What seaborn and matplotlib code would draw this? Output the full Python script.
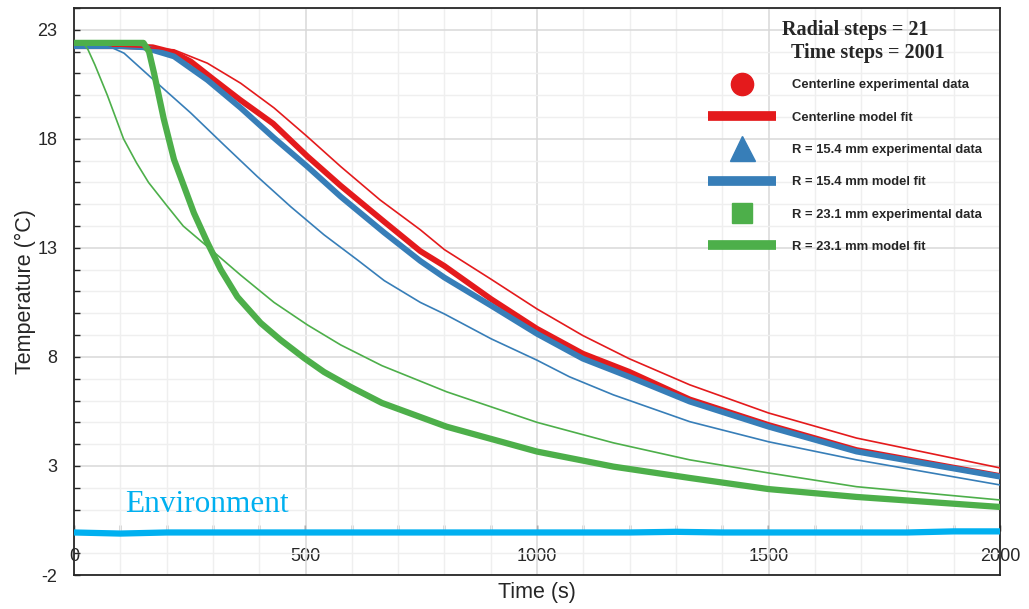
"""
Cooling curves: experimental data vs model fit at three radial positions
"""
import matplotlib
matplotlib.use('Agg')
import matplotlib.pyplot as plt
from matplotlib.lines import Line2D
from matplotlib.ticker import MultipleLocator, FixedLocator
import seaborn as sns

# ---- data (time in s, temperature in degC) ----
t_center_exp = [0, 100, 170, 216, 252, 300, 358, 430, 504, 576, 670, 748, 800, 901,
                1000, 1099, 1199, 1330, 1500, 1690, 2000]
T_center_exp = [22.25, 22.25, 22.2, 21.95, 21.55, 20.75, 19.8, 18.7, 17.2, 15.85, 14.2,
                12.85, 12.17, 10.65, 9.29, 8.15, 7.32, 6.05, 4.88, 3.73, 2.54]

t_center_fit = [0, 100, 150, 216, 288, 360, 432, 504, 576, 661, 748, 800, 901, 1000,
                1099, 1199, 1330, 1500, 1690, 2000]
T_center_fit = [22.25, 22.25, 22.2, 22.08, 21.47, 20.55, 19.42, 18.1, 16.73, 15.2,
                13.83, 12.92, 11.56, 10.2, 8.98, 7.92, 6.72, 5.43, 4.28, 2.91]

t_r154_exp = [0, 100, 150, 216, 288, 360, 432, 504, 576, 670, 748, 800, 901, 1000,
              1099, 1199, 1330, 1500, 1690, 2000]
T_r154_exp = [22.25, 22.25, 22.2, 21.78, 20.7, 19.42, 18.04, 16.73, 15.35, 13.7, 12.4,
              11.64, 10.35, 9.06, 7.92, 7.09, 5.95, 4.8, 3.66, 2.51]

t_r154_fit = [0, 60, 80, 108, 180, 252, 324, 396, 468, 540, 612, 670, 748, 800, 901,
              1000, 1070, 1165, 1330, 1500, 1690, 2000]
T_r154_fit = [22.25, 22.25, 22.2, 21.93, 20.55, 19.19, 17.72, 16.27, 14.89, 13.6, 12.45,
              11.5, 10.5, 9.97, 8.83, 7.85, 7.09, 6.26, 5.03, 4.11, 3.28, 2.13]

t_r231_exp = [0, 100, 150, 162, 173, 194, 216, 238, 259, 288, 317, 353, 403, 446, 497,
              540, 598, 665, 805, 1000, 1165, 1330, 1500, 1690, 2000]
T_r231_exp = [22.4, 22.4, 22.4, 22.0, 21.0, 18.9, 17.05, 15.8, 14.6, 13.25, 12.0, 10.75,
              9.56, 8.78, 7.95, 7.31, 6.62, 5.89, 4.8, 3.66, 2.97, 2.45, 1.94, 1.58, 1.12]

t_r231_fit = [0, 20, 30, 45, 72, 107, 135, 161, 200, 236, 297, 360, 432, 504, 576, 665,
              805, 1000, 1165, 1330, 1500, 1690, 2000]
T_r231_fit = [22.4, 22.4, 22.1, 21.4, 20.0, 18.0, 16.9, 16.0, 14.95, 14.0, 12.9, 11.75,
              10.5, 9.47, 8.55, 7.6, 6.4, 5.0, 4.06, 3.28, 2.68, 2.05, 1.44]

t_env = [0, 100, 200, 300, 400, 500, 600, 700, 800, 900, 1000, 1100, 1200, 1300,
         1400, 1500, 1600, 1700, 1800, 1900, 2000]
T_env = [-0.05, -0.1, -0.05, -0.05, -0.05, -0.05, -0.05, -0.05, -0.05, -0.05, -0.05,
         -0.05, -0.05, -0.02, -0.05, -0.05, -0.05, -0.05, -0.05, 0.0, 0.0]

y_major = [-2, 3, 8, 13, 18, 23]
x_major = [0, 500, 1000, 1500, 2000]

legend_labels = ['Centerline experimental data', 'Centerline model fit',
                 'R = 15.4 mm experimental data', 'R = 15.4 mm model fit',
                 'R = 23.1 mm experimental data', 'R = 23.1 mm model fit']

RED = '#E41A1C'
BLUE = '#377EB8'
GREEN = '#4DAF4A'
ENV = '#00B0F0'

sns.set_theme(style='white')
plt.rcParams['font.family'] = ['Liberation Sans', 'DejaVu Sans']
plt.rcParams['axes.unicode_minus'] = False

fig = plt.figure(figsize=(10.29, 6.09), dpi=100)
ax = fig.add_axes([74 / 1029, 1 - 575 / 609, 926 / 1029, 567 / 609])

# experimental data (thick) and model fits (thin)
sns.lineplot(x=t_center_exp, y=T_center_exp, ax=ax, color=RED, lw=4.2, zorder=3)
sns.lineplot(x=t_r154_exp, y=T_r154_exp, ax=ax, color=BLUE, lw=4.2, zorder=3)
sns.lineplot(x=t_center_fit, y=T_center_fit, ax=ax, color=RED, lw=1.2, zorder=4)
sns.lineplot(x=t_r154_fit, y=T_r154_fit, ax=ax, color=BLUE, lw=1.2, zorder=4)
sns.lineplot(x=t_r231_fit, y=T_r231_fit, ax=ax, color=GREEN, lw=1.2, zorder=4)
sns.lineplot(x=t_r231_exp, y=T_r231_exp, ax=ax, color=GREEN, lw=4.5, zorder=5)
sns.lineplot(x=t_env, y=T_env, ax=ax, color=ENV, lw=4.5, zorder=5)

ax.set_xlim(0, 2000)
ax.set_ylim(-2, 24)

ax.yaxis.set_major_locator(FixedLocator(y_major))
ax.yaxis.set_minor_locator(FixedLocator(list(range(-2, 25))))
ax.xaxis.set_major_locator(FixedLocator(x_major))
ax.xaxis.set_minor_locator(MultipleLocator(100))

ax.grid(which='major', color='#d9d9d9', lw=1.1, zorder=0)
ax.grid(which='minor', color='#efefef', lw=1.0, zorder=0)
ax.set_axisbelow(True)

ax.tick_params(axis='y', which='both', direction='in', left=True, length=4.5,
               width=1, color='#262626', labelsize=13, pad=12)
ax.tick_params(axis='x', which='both', bottom=False, labelbottom=False)

for sp in ax.spines.values():
    sp.set_visible(True)
    sp.set_color('#262626')
    sp.set_linewidth(1.3)

# x axis crosses at T = 0
sec = ax.secondary_xaxis(2 / 26)
sec.xaxis.set_major_locator(FixedLocator(x_major))
sec.xaxis.set_minor_locator(MultipleLocator(100))
sec.tick_params(which='both', direction='in', length=4, width=1, color='#262626',
                labelsize=13, pad=12)
sec.spines['bottom'].set_visible(False)

ax.set_xlabel('Time (s)', fontsize=15.5, labelpad=5)
ax.set_ylabel('Temperature (°C)', fontsize=15.5, labelpad=1)

ax.text(110, 0.89, 'Environment', color=ENV, fontsize=22.5,
        family='Liberation Serif', va='baseline', zorder=6)

# legend
handles = [
    Line2D([], [], ls='none', marker='o', ms=16, color=RED),
    Line2D([], [], color=RED, lw=7, solid_capstyle='butt'),
    Line2D([], [], ls='none', marker='^', ms=18, color=BLUE),
    Line2D([], [], color=BLUE, lw=7, solid_capstyle='butt'),
    Line2D([], [], ls='none', marker='s', ms=15, color=GREEN),
    Line2D([], [], color=GREEN, lw=7, solid_capstyle='butt'),
]
leg = ax.legend(handles, legend_labels, loc='upper left',
                bbox_to_anchor=(708 / 1029, 1 - 79 / 609), bbox_transform=fig.transFigure,
                frameon=False, borderpad=0, borderaxespad=0, handlelength=5.2,
                handletextpad=1.25, labelspacing=1.55,
                prop={'family': 'Liberation Sans', 'weight': 'bold', 'size': 9.4})

fig.text(855 / 1029, 1 - 30 / 609, 'Radial steps = 21', ha='center', va='center',
         family='Liberation Serif', fontweight='bold', fontsize=14.5)
fig.text(868 / 1029, 1 - 53 / 609, 'Time steps = 2001', ha='center', va='center',
         family='Liberation Serif', fontweight='bold', fontsize=14.5)

fig.savefig('out.png', dpi=100)
plt.close(fig)
